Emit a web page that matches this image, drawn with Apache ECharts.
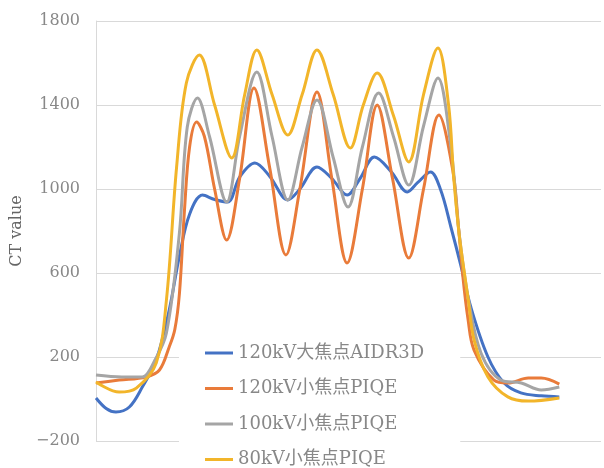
<!DOCTYPE html>
<html>
<head>
<meta charset="utf-8">
<script src="https://cdn.jsdelivr.net/npm/echarts@6/dist/echarts.min.js"></script>
<style>
html,body{margin:0;padding:0;background:#fff;}
#chart{width:604px;height:468px;}
</style>
</head>
<body>
<div id="chart"></div>
<script>
// Series names
var seriesNames = ['120kV大焦点AIDR3D', '120kV小焦点PIQE', '100kV小焦点PIQE', '80kV小焦点PIQE'];
// Y axis ticks
var yTicks = [-200, 200, 600, 1000, 1400, 1800];

// [position, CT value]
var blueData = [[0,5],[2.2,-45],[4.3,-62],[7.2,-38],[10.0,57],[13.0,186],[15.8,424],[18.0,680],[20.2,880],[23.0,971],[25.6,950],[28.4,938],[31.0,1057],[34.3,1124],[37.5,1060],[41.4,948],[44.0,1000],[47.7,1105],[50.9,1050],[54.2,971],[57.0,1050],[60.1,1152],[63.8,1080],[67.2,986],[69.4,1030],[72.2,1081],[74.4,995],[76.6,819],[78.7,640],[80.9,438],[84.6,200],[88.1,76],[91.7,29],[96.1,15],[100,10]];
var orangeData = [[0,76],[5.0,90],[10.8,105],[13.7,138],[15.8,248],[17.0,330],[18.0,500],[19.1,900],[20.2,1200],[21.7,1319],[23.4,1250],[25.6,1000],[28.2,757],[31.0,1050],[34.1,1481],[37.5,1100],[41.0,686],[44.0,1000],[47.7,1462],[50.9,1050],[54.2,648],[57.5,1000],[60.7,1400],[64.0,1050],[67.5,671],[70.7,1000],[74.0,1352],[77.0,1090],[78.3,805],[79.2,581],[80.3,380],[81.6,233],[85.9,90],[88.9,76],[93.3,100],[96.1,100],[100,71]];
var grayData = [[0,114],[5.6,105],[10.0,105],[12.6,180],[15.2,314],[18.0,790],[19.7,1295],[21.9,1433],[24.5,1250],[28.2,938],[31.0,1250],[34.7,1557],[38.0,1250],[41.4,948],[44.5,1200],[47.7,1424],[51.2,1150],[54.4,914],[57.5,1200],[61.0,1457],[64.2,1250],[67.5,1019],[70.7,1300],[73.8,1529],[76.6,1200],[78.3,805],[80.3,486],[83.1,219],[87.4,90],[91.8,76],[96.1,43],[100,57]];
var yellowData = [[0,81],[5.0,33],[8.7,52],[13.0,171],[15.2,471],[17.4,1105],[19.5,1505],[22.3,1638],[25.6,1400],[29.3,1148],[32.1,1450],[34.7,1662],[38.0,1450],[41.4,1257],[44.5,1450],[47.7,1662],[51.2,1450],[54.9,1195],[57.7,1400],[60.7,1552],[64.2,1350],[67.5,1129],[70.7,1450],[73.8,1671],[76.1,1400],[77.2,1057],[78.3,800],[79.2,648],[80.3,480],[81.6,281],[84.6,105],[88.9,10],[93.3,-10],[100,5]];

var colors = ['#4472C4', '#E97B3A', '#A5A5A5', '#F2B52A'];
var allData = [blueData, orangeData, grayData, yellowData];

var serif = '"DejaVu Serif", "Noto Sans CJK JP", serif';
var chart = echarts.init(document.getElementById('chart'), null, {renderer: 'canvas'});
chart.setOption({
  animation: false,
  backgroundColor: '#ffffff',
  color: colors,
  grid: {left: 96, right: 3, top: 21, bottom: 27, containLabel: false},
  xAxis: {
    type: 'value', min: 0, max: 109,
    axisLine: {show: false}, axisTick: {show: false}, axisLabel: {show: false}, splitLine: {show: false}
  },
  yAxis: {
    type: 'value', min: yTicks[0], max: yTicks[yTicks.length - 1], interval: 400,
    name: 'CT value', nameLocation: 'middle', nameGap: 63,
    nameTextStyle: {fontFamily: serif, fontSize: 16, color: '#666'},
    axisLine: {show: true, lineStyle: {color: '#d9d9d9', width: 1}},
    axisTick: {show: false},
    axisLabel: {margin: 16, fontFamily: serif, fontSize: 16, color: '#888', formatter: function (v) { return String(v).replace('-', '\u2212'); }},
    splitLine: {show: true, lineStyle: {color: '#d9d9d9', width: 1}}
  },
  legend: {
    orient: 'vertical', left: 179, top: 334, height: 140,
    padding: [10, 36, 4, 26],
    backgroundColor: '#ffffff',
    icon: 'rect', itemWidth: 28, itemHeight: 3, itemGap: 17.5,
    textStyle: {fontFamily: serif, fontSize: 18, color: '#888'},
    data: seriesNames
  },
  series: allData.map(function (d, i) {
    return {
      name: seriesNames[i], type: 'line', data: d, smooth: 0.35,
      showSymbol: false, symbol: 'none',
      lineStyle: {width: 3, color: colors[i]}
    };
  })
});
</script>
</body>
</html>
